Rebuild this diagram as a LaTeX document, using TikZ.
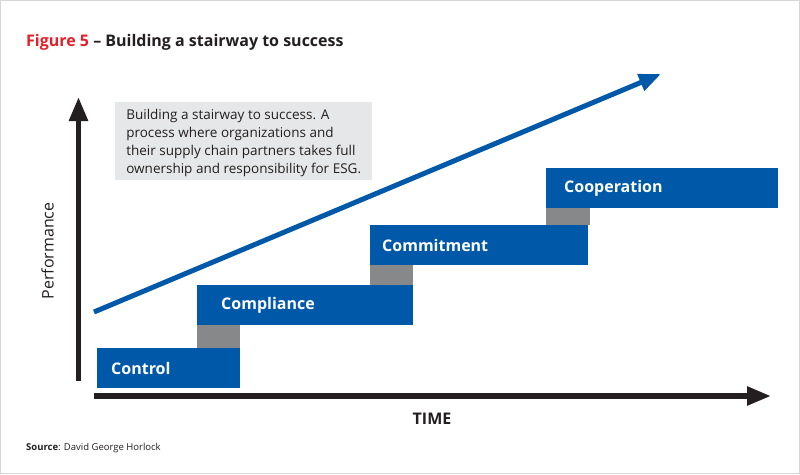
\documentclass[tikz,border=0pt]{standalone}
\usepackage{fontspec}
\setmainfont{Open Sans}
\usetikzlibrary{arrows.meta,positioning}
\definecolor{stepblue}{HTML}{0058A9}
\definecolor{risergray}{HTML}{87888A}
\definecolor{notegray}{HTML}{E6E7E8}
\definecolor{figred}{HTML}{E3202A}
\definecolor{axisblack}{HTML}{231F20}
\definecolor{framegray}{HTML}{D6D6D6}

\begin{document}
\begin{tikzpicture}[
    x=1pt, y=-1pt,
    stepbox/.style={
      fill=stepblue, anchor=north west, outer sep=0pt, inner sep=0pt,
      minimum height=40pt, minimum width=#1,
    },
    steplbl/.style={font=\fontsize{16}{18}\selectfont\bfseries, text=white, inner sep=0pt, anchor=west},
    riser/.style={fill=risergray},
    axis/.style={-{Triangle[length=24pt,width=18pt]}, line width=5.5pt, axisblack},
    trend/.style={-{Triangle[length=22pt,width=17pt]}, line width=5pt, stepblue},
  ]

  % =================== FRAME ===================
  \fill[white] (0,0) rectangle (800,474);
  \draw[framegray, line width=1.2pt] (0.6,0.6) rectangle (799.4,473.4);

  % Title
  \node[anchor=base west, inner sep=0pt, font=\fontsize{16}{18}\selectfont\bfseries] (title) at (26,46)
    {\textcolor{figred}{Figure 5} \textcolor{axisblack}{– Building a stairway to success}};

  % =================== AXES ===================
  \coordinate (origin) at (78.5,381);
  \coordinate (ytip) at (78.5,97);
  \coordinate (xfoot) at (94,396);
  \coordinate (xtip) at (771,396);
  \draw[axis] (origin) -- (ytip);
  \draw[axis] (xfoot) -- (xtip);

  \node[rotate=90, font=\fontsize{16}{18}\selectfont, text=axisblack] (perf) at (47.5,251) {Performance};
  \node[font=\fontsize{16}{18}\selectfont\bfseries, text=axisblack] (time) at (432,419) {TIME};

  % =================== NOTE ===================
  \node[fill=notegray, anchor=north west, inner xsep=9pt, inner ysep=6pt, align=left,
        minimum width=257pt, minimum height=78pt, text depth=0pt,
        font=\fontsize{13.5}{18}\selectfont, text=axisblack] (note) at (115,102)
    {Building a stairway to success. A\\process where organizations and\\their supply chain partners takes full\\ownership and responsibility for ESG.};

  % =================== STEPS ===================
  \node[stepbox=143pt] (ctrl) at (97,348) {};
  \node[stepbox=216pt] (compl) at (197,285) {};
  \node[stepbox=218pt] (commit) at (370,225) {};
  \node[stepbox=232pt] (coop) at (546,168) {};

  % Risers between steps
  \fill[riser] (compl.south west) rectangle (ctrl.north east);
  \fill[riser] (commit.south west) rectangle (compl.north east);
  \fill[riser] (coop.south west) rectangle ([xshift=2pt]commit.north east);

  % Step labels
  \node[steplbl, right=14pt of ctrl.west] {Control};
  \node[steplbl, right=24pt of compl.west] {Compliance};
  \node[steplbl, right=12pt of commit.west] {Commitment};
  \node[steplbl, right=18pt of coop.west] {Cooperation};

  % Trend arrow
  \coordinate (tstart) at (94,312);
  \coordinate (tend) at (661,74);
  \draw[trend] (tstart) -- (tend);

  % Source
  \node[anchor=base west, inner sep=0pt, font=\fontsize{9.5}{11}\selectfont, text=axisblack] (src) at (26,450)
    {\textbf{Source}: David George Horlock};

\end{tikzpicture}
\end{document}
